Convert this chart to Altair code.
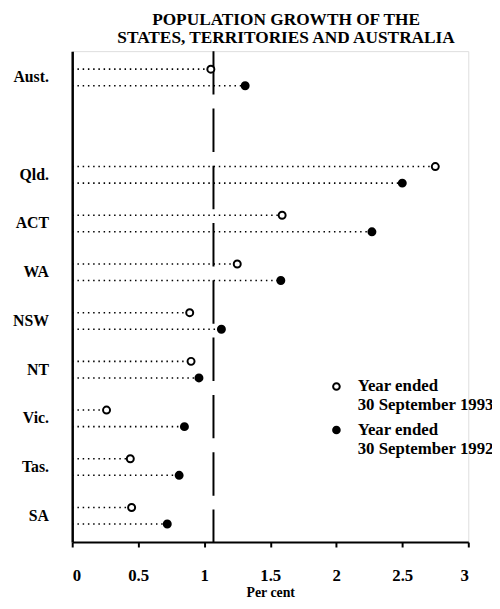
import altair as alt
import pandas as pd

# ---- data ----
categories = ["Aust.", " ", "Qld.", "ACT", "WA", "NSW", "NT", "Vic.", "Tas.", "SA"]
states = ["Aust.", "Qld.", "ACT", "WA", "NSW", "NT", "Vic.", "Tas.", "SA"]
growth_1993 = [1.05, 2.75, 1.59, 1.25, 0.89, 0.90, 0.26, 0.44, 0.45]
growth_1992 = [1.31, 2.50, 2.27, 1.58, 1.13, 0.96, 0.85, 0.81, 0.72]
series = ["1993", "1992"]
series_labels = {"1993": ["Year ended", "30 September 1993"],
                 "1992": ["Year ended", "30 September 1992"]}
aust_reference = [1.07]
x_ticks = [0, 0.5, 1, 1.5, 2, 2.5, 3]

rows = []
for s, a, b in zip(states, growth_1993, growth_1992):
    rows.append({"state": s, "series": "1993", "value": a, "zero": 0})
    rows.append({"state": s, "series": "1992", "value": b, "zero": 0})
df = pd.DataFrame(rows)
ref = pd.DataFrame({"value": aust_reference})

FONT = "Liberation Serif"

y_enc = alt.Y("state:N", sort=categories,
              scale=alt.Scale(domain=categories, paddingInner=0.32, paddingOuter=0.2),
              axis=alt.Axis(title=None, ticks=False, labelPadding=24, domainWidth=2.5,
                            domainColor="black", labelFont=FONT, labelFontSize=16,
                            labelFontWeight="bold", labelColor="black", grid=False))
yoff = alt.YOffset("series:N", sort=series,
                   scale=alt.Scale(domain=series, paddingInner=0, paddingOuter=0))
x_scale = alt.Scale(domain=[0, 3], nice=False)
x_axis = alt.Axis(values=x_ticks, format="~g", title="Per cent", grid=False,
                  tickSize=5, tickWidth=2, tickColor="black", domainWidth=2,
                  domainColor="black", labelPadding=21, labelFont=FONT,
                  labelFontSize=17, labelFontWeight="bold", labelColor="black",
                  titleFont=FONT, titleFontSize=14, titleFontWeight="bold",
                  titleColor="black", titlePadding=2)

rules = alt.Chart(df).mark_rule(color="black", strokeWidth=1.6, strokeDash=[1.5, 3.8]).encode(
    x=alt.X("zero:Q", scale=x_scale, axis=x_axis),
    x2="value:Q",
    y=y_enc,
    yOffset=yoff,
)

ref_line = alt.Chart(ref).mark_rule(color="black", strokeWidth=2, strokeDash=[44, 14]).encode(
    x=alt.X("value:Q", scale=x_scale),
)

label_expr = ("datum.value == '1993' ? " + str(series_labels["1993"]) +
              " : " + str(series_labels["1992"]))

points = alt.Chart(df).mark_point(filled=True, stroke="black", strokeWidth=2,
                                  size=50, opacity=1).encode(
    x=alt.X("value:Q", scale=x_scale),
    y=y_enc,
    yOffset=yoff,
    fill=alt.Fill("series:N", sort=series,
                  scale=alt.Scale(domain=series, range=["white", "black"]),
                  legend=alt.Legend(title=None, orient="none", legendX=259, legendY=331,
                                    padding=0, symbolType="circle", symbolSize=45,
                                    symbolStrokeColor="black", symbolStrokeWidth=2,
                                    labelExpr=label_expr, labelFont=FONT,
                                    labelFontSize=17, labelFontWeight="bold",
                                    labelColor="black", labelOffset=13,
                                    labelBaseline="middle", labelLimit=300,
                                    rowPadding=7)),
)

chart = alt.layer(ref_line, rules, points).properties(
    width=401,
    height=497,
    autosize=alt.AutoSizeParams(type="none"),
    padding={"left": 65, "top": 40, "right": 24, "bottom": 56},
    title=alt.TitleParams(["POPULATION GROWTH OF THE", "STATES, TERRITORIES AND AUSTRALIA"],
                          font=FONT, fontSize=17.5, fontWeight="bold", color="black",
                          anchor="middle", dx=16, offset=4, lineHeight=18),
).configure_view(stroke=None).configure(background="white")

chart.save("out.html", embed_options={"renderer": "svg", "actions": False})
